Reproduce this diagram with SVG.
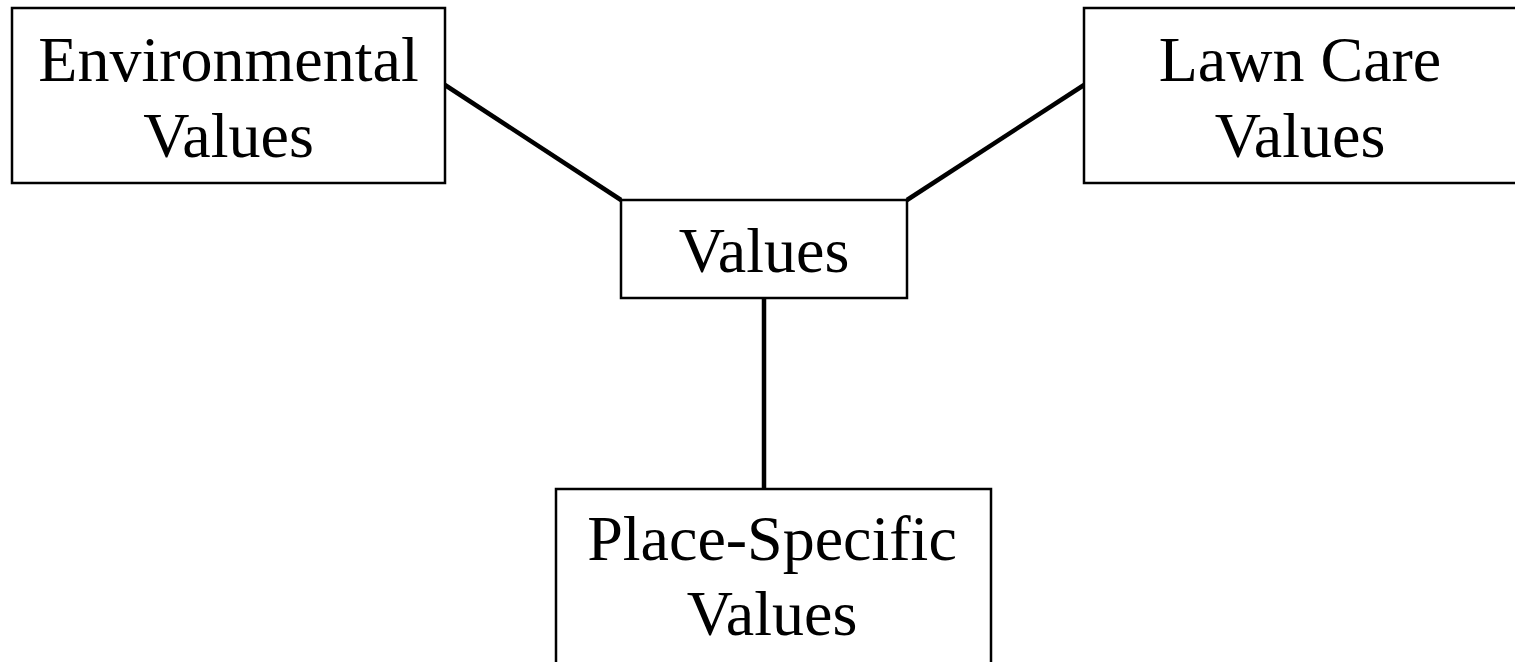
<svg xmlns="http://www.w3.org/2000/svg" width="1515" height="662" viewBox="0 0 1515 662">
<style>
.box{fill:#fff;stroke:#000;stroke-width:2.5}
.t{font-family:"Liberation Serif","Times New Roman",serif;font-size:64px;fill:#000;text-anchor:middle}
.c{stroke:#000;stroke-width:4.5;fill:none}
</style>
<rect width="1515" height="662" fill="#fff"/>
<g id="connectors">
<line class="c" x1="445" y1="85" x2="621" y2="200"/>
<line class="c" x1="1084" y1="85" x2="907" y2="200"/>
<line class="c" x1="764" y1="298" x2="764" y2="489"/>
</g>
<g id="env">
<rect class="box" x="12" y="8" width="433" height="175"/>
<text class="t" x="228.5" y="81">Environmental</text>
<text class="t" x="228.5" y="157">Values</text>
</g>
<g id="lawn">
<rect class="box" x="1084" y="8" width="433" height="175"/>
<text class="t" x="1300" y="81">Lawn Care</text>
<text class="t" x="1300" y="157">Values</text>
</g>
<g id="values">
<rect class="box" x="621" y="200" width="286" height="98"/>
<text class="t" x="764" y="272">Values</text>
</g>
<g id="place">
<rect class="box" x="556" y="489" width="435" height="180"/>
<text class="t" x="772" y="560">Place-Specific</text>
<text class="t" x="772" y="635">Values</text>
</g>
</svg>
